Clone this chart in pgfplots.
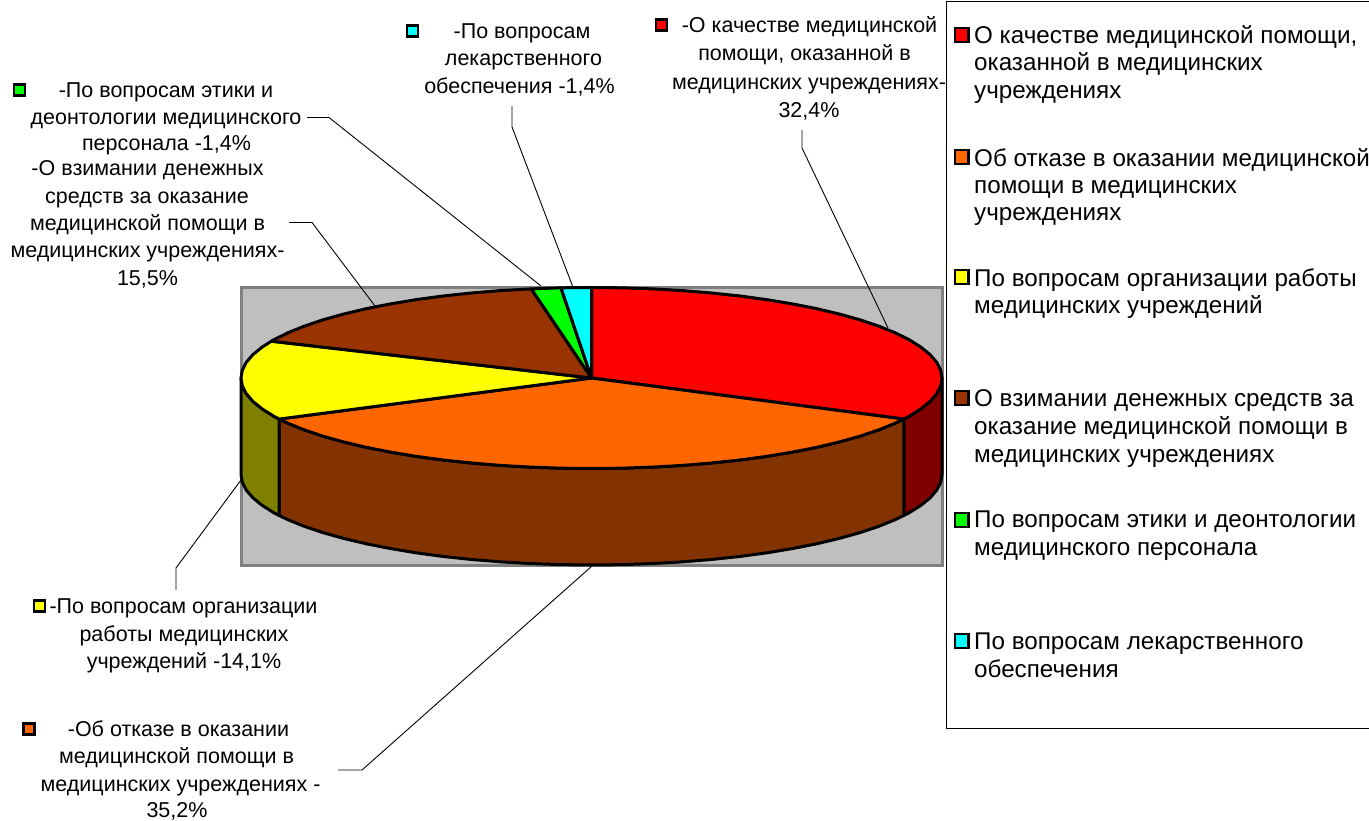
\documentclass[border=0pt]{standalone}
\usepackage{fontspec}
\setmainfont{Liberation Sans}
\usepackage{pgfplots}
\pgfplotsset{compat=1.18}
\definecolor{cRed}{HTML}{FF0000}
\definecolor{cOrange}{HTML}{FF6600}
\definecolor{cYellow}{HTML}{FFFF00}
\definecolor{cBrown}{HTML}{993300}
\definecolor{cGreen}{HTML}{00FF00}
\definecolor{cCyan}{HTML}{00FFFF}
\definecolor{wRed}{HTML}{800000}
\definecolor{wOrange}{HTML}{833300}
\definecolor{wYellow}{HTML}{808000}
\newcommand{\lab}[3]{\node[font=\fontsize{21.5}{24}\selectfont,inner sep=0pt,anchor=base] at (axis cs:#1,#2+7.5) {#3};}
\newcommand{\leg}[2]{\node[font=\fontsize{24.2}{28}\selectfont,inner sep=0pt,anchor=base west] at (axis cs:974,#1+8.5) {#2};}
\pgfplotsset{
  pie/.style={draw=black,line width=3pt,line join=round,
    x filter/.expression={x*350.5/351+591.5},
    y filter/.expression={y*90.5/91+378}},
  leader/.style={draw=black,line width=0.9pt,mark=none},
  key/.style={only marks,mark=square*,mark size=#1,mark options={draw=black,line width=2.4pt}},
}
\begin{document}
\begin{tikzpicture}
\begin{axis}[
  scale only axis,width=1369pt,height=821pt,
  xmin=0,xmax=1369,ymin=0,ymax=821,y dir=reverse,
  axis lines=none,clip=false,
]
% legend frame
\addplot[draw=black,line width=0.9pt,mark=none] coordinates {(1369,1)(946,1)(946,728)(1369,728)};
% plot area
\addplot[fill=black!25,draw=black!50,line width=3pt,mark=none] coordinates {(241,287.5)(942.5,287.5)(942.5,565.5)(241,565.5)} -- cycle;
% side walls (depth 97)
\addplot[pie,fill=wRed,mark=none] coordinates {(351,0)(349.7,7.9)(345.7,15.8)(339,23.6)(329.8,31.1)(318.1,38.5)(312.7,41.3)
 (312.7,138.3)(318.1,135.5)(329.8,128.1)(339,120.6)(345.7,112.8)(349.7,104.9)(351,97)} -- cycle;
\addplot[pie,fill=wOrange,mark=none] coordinates {(312.7,41.3)(304,45.5)(287.5,52.2)(268.9,58.5)(248.2,64.3)(225.6,69.7)(201.3,74.5)(175.5,78.8)(148.3,82.5)(120,85.5)(90.8,87.9)(60.9,89.6)(30.6,90.7)(0,91)
 (-30.6,90.7)(-60.9,89.6)(-90.8,87.9)(-120,85.5)(-148.3,82.5)(-175.5,78.8)(-201.3,74.5)(-225.6,69.7)(-248.2,64.3)(-268.9,58.5)(-287.5,52.2)(-304,45.5)(-312.7,41.3)
 (-312.7,138.3)(-304,142.5)(-287.5,149.2)(-268.9,155.5)(-248.2,161.3)(-225.6,166.7)(-201.3,171.5)(-175.5,175.8)(-148.3,179.5)(-120,182.5)(-90.8,184.9)(-60.9,186.6)(-30.6,187.7)(0,188)
 (30.6,187.7)(60.9,186.6)(90.8,184.9)(120,182.5)(148.3,179.5)(175.5,175.8)(201.3,171.5)(225.6,166.7)(248.2,161.3)(268.9,155.5)(287.5,149.2)(304,142.5)(312.7,138.3)} -- cycle;
\addplot[pie,fill=wYellow,mark=none] coordinates {(-312.7,41.3)(-318.1,38.5)(-329.8,31.1)(-339,23.6)(-345.7,15.8)(-349.7,7.9)(-351,0)
 (-351,97)(-349.7,104.9)(-345.7,112.8)(-339,120.6)(-329.8,128.1)(-318.1,135.5)(-312.7,138.3)} -- cycle;
% top slices
\addplot[pie,fill=cRed,mark=none] coordinates {(0,0)(0,-91)(30.6,-90.7)(60.9,-89.6)(90.8,-87.9)(120,-85.5)(148.3,-82.5)(175.5,-78.8)(201.3,-74.5)(225.6,-69.7)(248.2,-64.3)(268.9,-58.5)(287.5,-52.2)(304,-45.5)(318.1,-38.5)(329.8,-31.1)(339,-23.6)(345.7,-15.8)(349.7,-7.9)(351,0)
 (349.7,7.9)(345.7,15.8)(339,23.6)(329.8,31.1)(318.1,38.5)(312.7,41.3)} -- cycle;
\addplot[pie,fill=cOrange,mark=none] coordinates {(0,0)(312.7,41.3)(304,45.5)(287.5,52.2)(268.9,58.5)(248.2,64.3)(225.6,69.7)(201.3,74.5)(175.5,78.8)(148.3,82.5)(120,85.5)(90.8,87.9)(60.9,89.6)(30.6,90.7)(0,91)
 (-30.6,90.7)(-60.9,89.6)(-90.8,87.9)(-120,85.5)(-148.3,82.5)(-175.5,78.8)(-201.3,74.5)(-225.6,69.7)(-248.2,64.3)(-268.9,58.5)(-287.5,52.2)(-304,45.5)(-312.7,41.3)} -- cycle;
\addplot[pie,fill=cYellow,mark=none] coordinates {(0,0)(-312.7,41.3)(-318.1,38.5)(-329.8,31.1)(-339,23.6)(-345.7,15.8)(-349.7,7.9)(-351,0)(-349.7,-7.9)(-345.7,-15.8)(-339,-23.6)(-329.8,-31.1)(-320.6,-37)} -- cycle;
\addplot[pie,fill=cBrown,mark=none] coordinates {(0,0)(-320.6,-37)(-318.1,-38.5)(-304,-45.5)(-287.5,-52.2)(-268.9,-58.5)(-248.2,-64.3)(-225.6,-69.7)(-201.3,-74.5)(-175.5,-78.8)(-148.3,-82.5)(-120,-85.5)(-90.8,-87.9)(-60.3,-89.6)} -- cycle;
\addplot[pie,fill=cGreen,mark=none] coordinates {(0,0)(-60.3,-89.6)(-30.6,-90.7)} -- cycle;
\addplot[pie,fill=cCyan,mark=none] coordinates {(0,0)(-30.6,-90.7)(0,-91)} -- cycle;
% leader lines
\addplot[leader] coordinates {(802,130)(802,148)(888,328)};
\addplot[leader] coordinates {(512,106)(512,127)(572.5,286)};
\addplot[leader] coordinates {(307,117.5)(329,117.5)(541,286)};
\addplot[leader] coordinates {(289,222.5)(312,222.5)(375,306)};
\addplot[leader] coordinates {(176,590)(176,568)(241,480)};
\addplot[leader] coordinates {(338,770)(362,770)(592,566)};
% label keys
\addplot[key=5.6pt,cRed] coordinates {(661.5,25)};
\addplot[key=5.6pt,cCyan] coordinates {(412.5,31)};
\addplot[key=5.6pt,cGreen] coordinates {(19.5,90)};
\addplot[key=5.6pt,cYellow] coordinates {(39.5,606)};
\addplot[key=5.6pt,cOrange] coordinates {(29,729)};
% legend keys
\addplot[key=6.8pt,cRed] coordinates {(961.5,35)};
\addplot[key=6.8pt,cOrange] coordinates {(961.5,157)};
\addplot[key=6.8pt,cYellow] coordinates {(961.5,277)};
\addplot[key=6.8pt,cBrown] coordinates {(961.5,398)};
\addplot[key=6.8pt,cGreen] coordinates {(961.5,520)};
\addplot[key=6.8pt,cCyan] coordinates {(961.5,641)};
% data labels
\lab{809.5}{25}{-О качестве медицинской}
\lab{804.5}{53}{помощи, оказанной в}
\lab{809}{82}{медицинских учреждениях-}
\lab{809}{110}{32,4\%}
\lab{522}{31}{-По вопросам}
\lab{523.5}{58}{лекарственного}
\lab{519.5}{86}{обеспечения -1,4\%}
\lab{166}{90}{-По вопросам этики и}
\lab{166}{117}{деонтологии медицинского}
\lab{166.5}{143}{персонала -1,4\%}
\lab{147.5}{168}{-О взимании денежных}
\lab{147}{196}{средств за оказание}
\lab{147.5}{223}{медицинской помощи в}
\lab{147.5}{250}{медицинских учреждениях-}
\lab{147.5}{278}{15,5\%}
\lab{183.5}{606}{-По вопросам организации}
\lab{184}{634}{работы медицинских}
\lab{184}{661}{учреждений -14,1\%}
\lab{178.5}{729}{-Об отказе в оказании}
\lab{176.5}{756}{медицинской помощи в}
\lab{180.5}{784}{медицинских учреждениях -}
\lab{177}{810}{35,2\%}
% legend text
\leg{35}{О качестве медицинской помощи,}
\leg{62}{оказанной в медицинских}
\leg{90}{учреждениях}
\leg{158}{Об отказе в оказании медицинской}
\leg{185}{помощи в медицинских}
\leg{212}{учреждениях}
\leg{278}{По вопросам организации работы}
\leg{305}{медицинских учреждений}
\leg{398}{О взимании денежных средств за}
\leg{426}{оказание медицинской помощи в}
\leg{454}{медицинских учреждениях}
\leg{519}{По вопросам этики и деонтологии}
\leg{547}{медицинского персонала}
\leg{641}{По вопросам лекарственного}
\leg{669}{обеспечения}
\end{axis}
\pgfresetboundingbox
\path[use as bounding box] (current axis.south west) rectangle (current axis.north east);
\end{tikzpicture}
\end{document}
